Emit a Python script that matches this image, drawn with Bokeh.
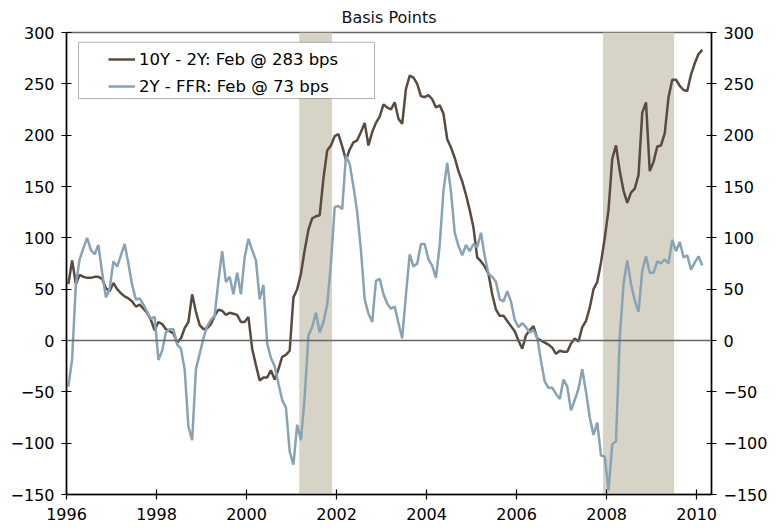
import numpy as np
from bokeh.plotting import figure
from bokeh.models import (Range1d, LinearAxis, FixedTicker, Span, BoxAnnotation,
                          Legend, LegendItem)
from bokeh.embed import file_html
from bokeh.resources import INLINE

# ---------------- data (monthly, Jan 1996 - Feb 2010) ----------------
start_year = 1996
spread_10y_2y = [
    # 1996
    55, 78, 55, 64, 62, 61, 61, 62, 62, 60, 51, 48,
    # 1997
    56, 50, 46, 43, 41, 38, 33, 35, 31, 27, 20, 10,
    # 1998
    18, 16, 11, 9, 7, -2, 2, 12, 18, 45, 28, 15,
    # 1999
    11, 12, 16, 24, 30, 29, 25, 27, 26, 25, 18, 18,
    # 2000
    23, -8, -24, -39, -36, -36, -29, -38, -28, -16, -14, -10,
    # 2001
    42, 50, 65, 88, 108, 119, 121, 122, 158, 185, 190, 199,
    # 2002
    201, 189, 176, 186, 193, 195, 203, 212, 190, 203, 212, 218,
    # 2003
    230, 227, 225, 232, 216, 211, 245, 258, 256, 250, 238, 237,
    # 2004
    239, 235, 227, 229, 221, 196, 188, 178, 165, 155, 142, 127,
    # 2005
    110, 81, 77, 72, 65, 45, 30, 24, 24, 19, 14, 9,
    # 2006
    0, -8, 5, 10, 14, 2, 0, -2, -4, -7, -13, -10,
    # 2007
    -11, -11, -3, 2, -1, 13, 19, 32, 50, 57, 76, 100,
    # 2008
    127, 177, 190, 165, 146, 134, 144, 148, 161, 222, 232, 165,
    # 2009
    174, 189, 190, 202, 237, 254, 254, 248, 244, 243, 259, 270,
    # 2010
    279, 283,
]
spread_2y_ffr = [
    # 1996
    -45, -18, 55, 79, 90, 100, 88, 84, 93, 66, 42, 50,
    # 1997
    77, 72, 83, 94, 75, 54, 40, 41, 35, 28, 21, 23,
    # 1998
    -19, -10, 8, 11, 11, -4, -8, -28, -84, -97, -28, -13,
    # 1999
    2, 14, 20, 24, 58, 87, 57, 62, 45, 66, 45, 81,
    # 2000
    99, 88, 78, 40, 54, -3, -17, -25, -42, -58, -65, -108,
    # 2001
    -121, -82, -97, -55, 5, 13, 27, 8, 18, 35, 75, 130,
    # 2002
    131, 128, 180, 172, 150, 125, 88, 40, 26, 18, 58, 60,
    # 2003
    45, 36, 31, 33, 17, 2, 45, 84, 72, 75, 94, 94,
    # 2004
    79, 73, 61, 93, 146, 173, 145, 105, 92, 83, 93, 87,
    # 2005
    94, 91, 105, 82, 65, 62, 57, 40, 38, 48, 38, 20,
    # 2006
    13, 17, 13, 8, 10, 3, -20, -40, -46, -46, -52, -57,
    # 2007
    -38, -45, -68, -58, -47, -28, -50, -75, -92, -80, -112, -113,
    # 2008
    -146, -101, -98, 3, 55, 78, 55, 39, 28, 68, 82, 66,
    # 2009
    66, 77, 75, 79, 75, 98, 87, 96, 81, 83, 69, 76,
    # 2010
    82, 73,
]
recession_start = [2001.17, 2007.92]
recession_end = [2001.90, 2009.50]
x_ticks = [1996, 1998, 2000, 2002, 2004, 2006, 2008, 2010]
y_ticks = [-150, -100, -50, 0, 50, 100, 150, 200, 250, 300]
label_1 = "10Y - 2Y: Feb @ 283 bps"
label_2 = "2Y - FFR: Feb @ 73 bps"

# decimal-year position of each month (mid-month)
months = np.arange(len(spread_10y_2y))
x = start_year + (months + 0.5) / 12.0

BROWN = "#5a4a3f"
BLUE = "#87a3b5"
BAND = "#d7d3c7"
FONT = "DejaVu Sans"

p = figure(width=777, height=529, frame_width=645, frame_height=462,
           output_backend="svg", toolbar_location=None,
           x_range=Range1d(1996, 2010.33), y_range=Range1d(-150, 300),
           min_border_left=66, min_border_right=66, min_border_top=32,
           min_border_bottom=35, title="Basis Points")

p.title.align = "center"
p.title.text_font = FONT
p.title.text_font_size = "16px"
p.title.text_font_style = "normal"
p.title.text_color = "#111111"
p.title.standoff = 11
p.title.offset = 0

p.xgrid.visible = False
p.ygrid.visible = False
p.outline_line_color = "#666666"
p.outline_line_width = 1.5
p.background_fill_color = "white"
p.border_fill_color = "white"

for s, e in zip(recession_start, recession_end):
    p.add_layout(BoxAnnotation(left=s, right=e, fill_color=BAND, fill_alpha=1.0,
                               line_color=None, level="underlay"))

p.add_layout(Span(location=0, dimension="width", line_color="#666666",
                  line_width=1.5))

r1 = p.line(x, spread_10y_2y, line_color=BROWN, line_width=2.5)
r2 = p.line(x, spread_2y_ffr, line_color=BLUE, line_width=2.5)

p.add_layout(LinearAxis(), "right")

for ax in p.xaxis:
    ax.ticker = FixedTicker(ticks=x_ticks)
    ax.major_label_standoff = 8
for ax in p.yaxis:
    ax.ticker = FixedTicker(ticks=y_ticks)
    ax.major_label_standoff = 7
for ax in p.xaxis + p.yaxis:
    ax.minor_tick_line_color = None
    ax.major_tick_in = 5
    ax.major_tick_out = 5
    ax.axis_line_color = "black"
    ax.axis_line_width = 1.5
    ax.major_tick_line_color = "black"
    ax.major_tick_line_width = 1.2
    ax.major_label_text_font = FONT
    ax.major_label_text_font_size = "16px"
    ax.major_label_text_color = "black"

# legend frame (decoration)
p.add_layout(BoxAnnotation(left=1996.267, right=2002.844, bottom=235.7, top=290.5,
                           fill_color="white", fill_alpha=1.0,
                           line_color="black", line_width=1.0, level="overlay"))

legend = Legend(items=[LegendItem(label=label_1, renderers=[r1]),
                       LegendItem(label=label_2, renderers=[r2])],
                location=(42, 398), padding=0, spacing=7, margin=0,
                glyph_width=27, glyph_height=20, label_height=20,
                label_standoff=4, border_line_color=None,
                background_fill_alpha=0.0,
                label_text_font=FONT, label_text_font_size="16.5px",
                label_text_color="black")
legend.level = "overlay"
p.add_layout(legend)

open("out.html", "w").write(file_html(p, INLINE))
